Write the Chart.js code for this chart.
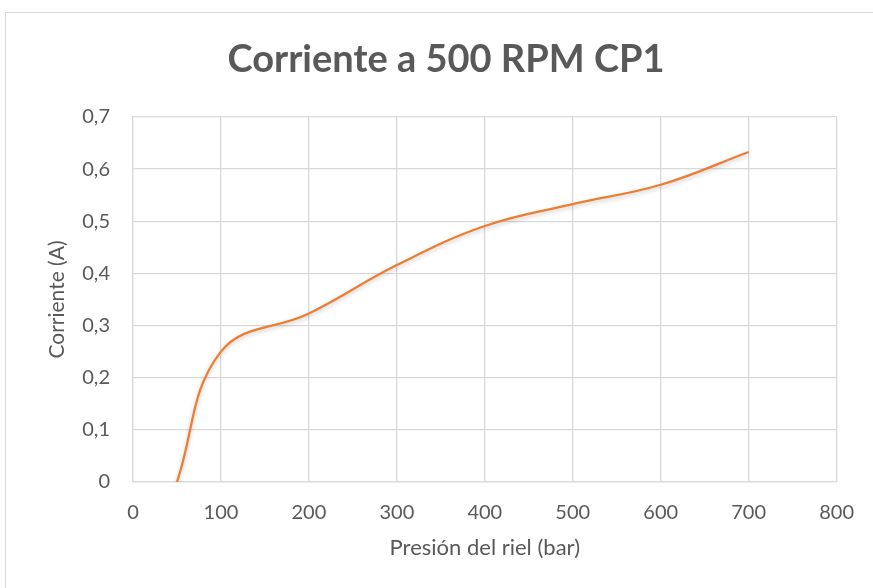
<!DOCTYPE html>
<html>
<head>
<meta charset="utf-8">
<script src="https://cdn.jsdelivr.net/npm/chart.js@4/dist/chart.umd.min.js"></script>
<style>
  html, body { margin: 0; padding: 0; background: #fff; }
  #frame { position: absolute; left: 5px; top: 12px; width: 900px; height: 600px; border: 1px solid #d9d9d9; box-sizing: border-box; }
  #wrap { position: absolute; left: 0; top: 0; width: 873px; height: 588px; }
</style>
</head>
<body>
<div id="frame"></div>
<div id="wrap"><canvas id="corrienteChart" width="873" height="588"></canvas></div>
<script>
// Presión del riel (bar) vs corriente (A)
const presion = [50, 100, 200, 300, 400, 500, 600, 700];
const corriente = [0, 0.25, 0.323, 0.416, 0.491, 0.533, 0.570, 0.633];
const xTicks = [0, 100, 200, 300, 400, 500, 600, 700, 800];
const yTicks = [0, 0.1, 0.2, 0.3, 0.4, 0.5, 0.6, 0.7];

const gris = "#595959";
const rejilla = "#d9d9d9";

const sombra = {
  id: "sombra",
  beforeDatasetDraw(chart) {
    const ctx = chart.ctx;
    ctx.save();
    ctx.shadowColor = "rgba(0,0,0,0.22)";
    ctx.shadowBlur = 4;
    ctx.shadowOffsetY = 2;
  },
  afterDatasetDraw(chart) {
    chart.ctx.restore();
  }
};

const ctx = document.getElementById("corrienteChart").getContext("2d");
new Chart(ctx, {
  type: "scatter",
  data: {
    datasets: [{
      data: presion.map((p, i) => ({ x: p, y: corriente[i] })),
      showLine: true,
      borderColor: "#ed7d31",
      borderWidth: 2.25,
      pointRadius: 0,
      tension: 0.4,
      fill: false
    }]
  },
  plugins: [sombra],
  options: {
    responsive: false,
    animation: false,
    layout: { padding: { left: 19, right: 0, top: 0, bottom: 0 } },
    plugins: {
      legend: { display: false },
      tooltip: { enabled: false },
      title: {
        display: true,
        text: "Corriente a 500 RPM CP1",
        color: gris,
        font: { family: "Lato", size: 38, weight: "bold" },
        padding: { top: 37, bottom: 34.4 }
      }
    },
    scales: {
      x: {
        type: "linear",
        min: 0,
        max: 800,
        afterBuildTicks: (s) => { s.ticks = xTicks.map(v => ({ value: v })); },
        afterFit: (s) => { s.height = 106; },
        grid: { color: rejilla, lineWidth: 1.3, drawTicks: false },
        border: { color: rejilla, width: 1.3 },
        ticks: { color: gris, font: { family: "Lato", size: 20 }, padding: 19 },
        title: {
          display: true,
          text: "Presión del riel (bar)",
          color: gris,
          font: { family: "Lato", size: 22 },
          padding: { top: 0, bottom: 27 }
        }
      },
      y: {
        min: 0,
        max: 0.7,
        afterBuildTicks: (s) => { s.ticks = yTicks.map(v => ({ value: v })); },
        afterFit: (s) => { s.width = 114; },
        grid: { color: rejilla, lineWidth: 1.3, drawTicks: false },
        border: { color: rejilla, width: 1.3 },
        ticks: {
          color: gris,
          font: { family: "Lato", size: 20 },
          padding: 23,
          callback: (v) => v === 0 ? "0" : v.toFixed(1).replace(".", ",")
        },
        title: {
          display: true,
          text: "Corriente (A)",
          color: gris,
          font: { family: "Lato", size: 21 },
          padding: { top: 26, bottom: 0 }
        }
      },
      derecha: {
        position: "right",
        min: 0,
        max: 1,
        afterFit: (s) => { s.width = 34; },
        grid: { display: false },
        border: { display: false },
        ticks: { display: false }
      }
    }
  }
});
</script>
</body>
</html>
